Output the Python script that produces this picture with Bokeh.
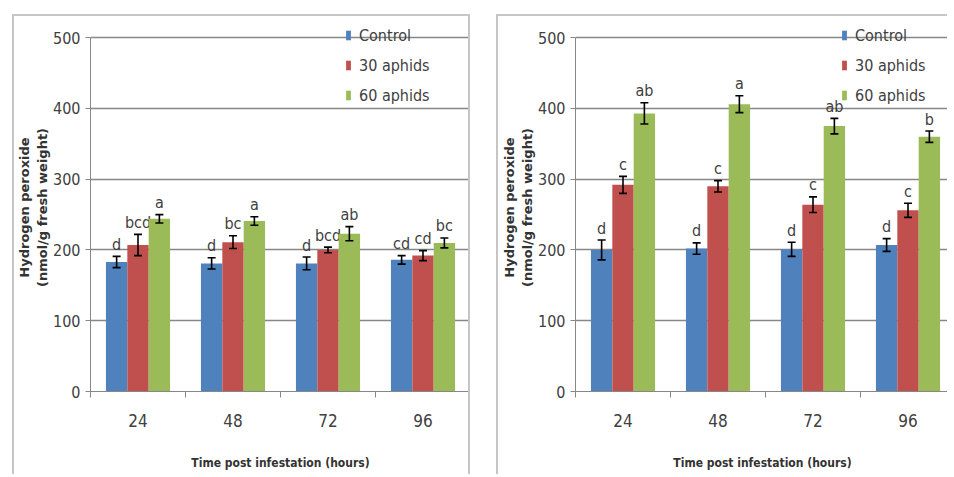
from bokeh.plotting import figure
from bokeh.models import (ColumnDataSource, Whisker, TeeHead, FixedTicker, Legend,
                          LegendItem, Range1d, Spacer)
from bokeh.layouts import row, column
from bokeh.core.properties import value
from bokeh.embed import file_html
from bokeh.resources import INLINE

# ---------------- data ----------------
hours = ["24", "48", "72", "96"]
series_names = ["Control", "30 aphids", "60 aphids"]
colors = ["#4F81BD", "#C0504D", "#9BBB59"]

left_control = [183, 181, 181, 186]
left_control_err = [8, 8, 9, 6]
left_30 = [207, 211, 200, 192]
left_30_err = [15, 9, 4, 7]
left_60 = [244, 241, 223, 210]
left_60_err = [6, 6, 10, 7]
left_letters_control = ["d", "d", "d", "cd"]
left_letters_30 = ["bcd", "bc", "bcd", "cd"]
left_letters_60 = ["a", "a", "ab", "bc"]

right_control = [200, 202, 201, 207]
right_control_err = [14, 8, 10, 9]
right_30 = [292, 290, 264, 256]
right_30_err = [12, 8, 11, 10]
right_60 = [393, 406, 375, 360]
right_60_err = [15, 12, 11, 8]
right_letters_control = ["d", "d", "d", "d"]
right_letters_30 = ["c", "c", "c", "c"]
right_letters_60 = ["ab", "a", "ab", "b"]

y_ticks = [0, 100, 200, 300, 400, 500]

NARROW = "'DejaVu Sans Condensed', 'Liberation Sans'"
TXT = "#404040"
GRID = "#878787"
PANEL_H = 460
FRAME_H = 368
TOP_B = 7


def make_panel(series, errs, letters, width, border_l, border_r, x_end):
    p = figure(width=width, height=PANEL_H, output_backend="svg", toolbar_location=None,
               x_range=Range1d(0, x_end), y_range=Range1d(0, 520),
               min_border_left=border_l, min_border_right=border_r,
               min_border_top=TOP_B, min_border_bottom=PANEL_H - TOP_B - FRAME_H)
    p.outline_line_color = None
    p.background_fill_color = "white"
    p.border_fill_color = "white"

    bar_w = 0.225
    offsets = [-bar_w, 0.0, bar_w]
    base_x = [i + 0.5 for i in range(len(hours))]
    renderers = []
    for k in range(3):
        xs = [b + offsets[k] for b in base_x]
        vals = series[k]
        e = errs[k]
        src = ColumnDataSource(dict(
            x=xs, top=vals,
            upper=[v + d for v, d in zip(vals, e)],
            lower=[v - d for v, d in zip(vals, e)],
            ly=[v + d + 17 for v, d in zip(vals, e)],
            lab=letters[k]))
        r = p.vbar(x="x", top="top", bottom=0, width=bar_w, source=src,
                   fill_color=colors[k], line_color=None)
        renderers.append(r)
        w = Whisker(base="x", upper="upper", lower="lower", source=src,
                    dimension="height", line_color="black", line_width=1.6,
                    upper_head=TeeHead(size=8, line_color="black", line_width=1.6),
                    lower_head=TeeHead(size=8, line_color="black", line_width=1.6),
                    level="overlay")
        p.add_layout(w)
        p.text(x="x", y="ly", text="lab", source=src, text_align="center",
               text_baseline="alphabetic", text_font=value(NARROW),
               text_font_size="16px", text_color=TXT)

    # grid
    p.xgrid.grid_line_color = None
    p.ygrid.ticker = FixedTicker(ticks=y_ticks)
    p.ygrid.grid_line_color = GRID
    p.ygrid.grid_line_width = 1.3

    # y axis
    ya = p.yaxis[0]
    ya.ticker = FixedTicker(ticks=y_ticks)
    ya.bounds = (0, 500)
    ya.axis_line_color = GRID
    ya.major_tick_line_color = GRID
    ya.major_tick_out = 5
    ya.major_tick_in = 0
    ya.minor_tick_line_color = None
    ya.major_label_text_font = NARROW
    ya.major_label_text_font_size = "16px"
    ya.major_label_text_color = TXT
    ya.major_label_standoff = 5
    ya.axis_label = "Hydrogen peroxide\n(nmol/g fresh weight)"
    ya.axis_label_text_font = "DejaVu Sans"
    ya.axis_label_text_font_style = "bold"
    ya.axis_label_text_font_size = "13px"
    ya.axis_label_text_color = "#333333"
    ya.axis_label_standoff = 0

    # x axis
    xa = p.xaxis[0]
    xa.ticker = FixedTicker(ticks=base_x, minor_ticks=[0, 1, 2, 3, 4])
    xa.major_label_overrides = {b: h for b, h in zip(base_x, hours)}
    xa.axis_line_color = GRID
    xa.major_tick_line_color = None
    xa.minor_tick_line_color = GRID
    xa.minor_tick_out = 6
    xa.minor_tick_in = 0
    xa.major_label_text_font = NARROW
    xa.major_label_text_font_size = "17px"
    xa.major_label_text_color = TXT
    xa.major_label_standoff = 16
    xa.axis_label = "Time post infestation (hours)"
    xa.axis_label_text_font = NARROW
    xa.axis_label_text_font_style = "bold"
    xa.axis_label_text_font_size = "12px"
    xa.axis_label_text_color = "#333333"
    xa.axis_label_standoff = 26

    return p, renderers


def add_legend(p, renderers, xloc):
    items = [LegendItem(label=n, renderers=[r]) for n, r in zip(series_names, renderers)]
    lg = Legend(items=items, location=(xloc, 286), orientation="vertical",
                glyph_width=6, glyph_height=12, label_standoff=8,
                label_height=20, spacing=10, padding=0, margin=0,
                border_line_color=None, background_fill_alpha=0,
                label_text_font=NARROW, label_text_font_size="16px",
                label_text_color=TXT)
    p.add_layout(lg, "center")


left, lr = make_panel([left_control, left_30, left_60],
                      [left_control_err, left_30_err, left_60_err],
                      [left_letters_control, left_letters_30, left_letters_60],
                      width=458, border_l=76, border_r=2, x_end=4)
add_legend(left, lr, 255)
left.styles = {"border-left": "2px solid #c6c6c6", "border-top": "2px solid #c6c6c6",
               "border-right": "2px solid #c6c6c6"}

right, rr = make_panel([right_control, right_30, right_60],
                       [right_control_err, right_30_err, right_60_err],
                       [right_letters_control, right_letters_30, right_letters_60],
                       width=451, border_l=77, border_r=0, x_end=374 / 95)
add_legend(right, rr, 266)
right.styles = {"border-left": "2px solid #c6c6c6", "border-top": "2px solid #c6c6c6"}

layout = column(Spacer(width=10, height=14),
                row(Spacer(width=12, height=10), left, Spacer(width=26, height=10), right))

open("out.html", "w").write(file_html(layout, INLINE))
